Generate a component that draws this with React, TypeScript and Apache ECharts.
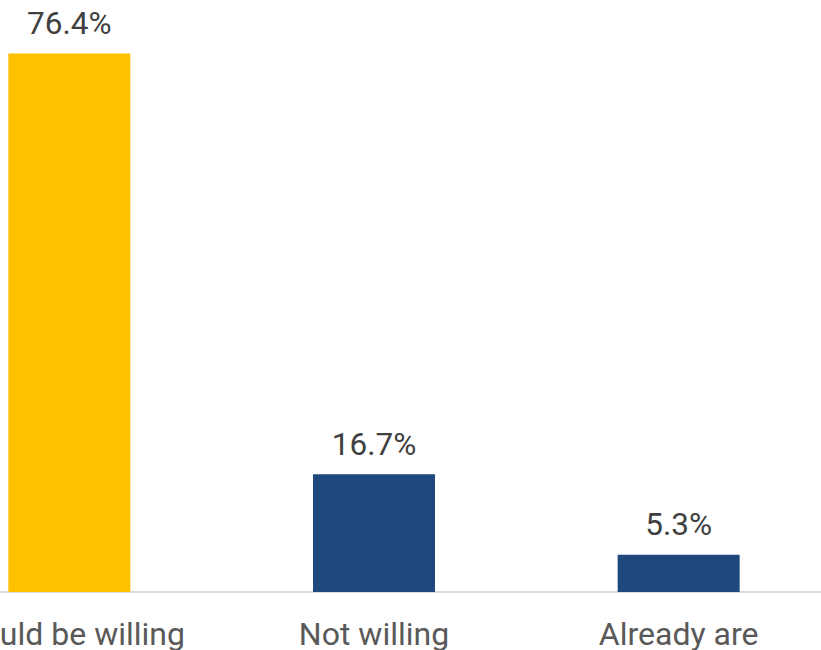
import React, { useEffect, useRef } from "react";
import * as echarts from "echarts";

const categories = ["Would be willing", "Not willing", "Already are"];
const values = [76.4, 16.7, 5.3];
const barColors = ["#FFC000", "#1F497D", "#1F497D"];

export default function App() {
  const ref = useRef<HTMLDivElement>(null);
  useEffect(() => {
    if (!ref.current) return;
    const chart = echarts.init(ref.current, undefined, { renderer: "svg" });
    chart.setOption({
      animation: false,
      grid: { left: 0, right: 0, top: 28, bottom: 57, containLabel: false },
      xAxis: {
        type: "category",
        data: categories,
        axisLine: { show: true, lineStyle: { color: "#D9D9D9", width: 2 } },
        axisTick: { show: false },
        axisLabel: {
          interval: 0,
          hideOverlap: false,
          margin: 26,
          color: "#595959",
          fontSize: 32,
          fontFamily: "Roboto",
        },
      },
      yAxis: {
        type: "value",
        min: 0,
        max: 80,
        show: false,
        splitLine: { show: false },
      },
      series: [
        {
          type: "bar",
          barWidth: 122,
          data: values.map((v, i) => ({ value: v, itemStyle: { color: barColors[i] } })),
          label: {
            show: true,
            position: "top",
            distance: 14,
            color: "#404040",
            fontSize: 31.5,
            fontFamily: "Roboto",
            formatter: (p: any) => p.value.toFixed(1) + "%",
          },
        },
      ],
    });
    return () => chart.dispose();
  }, []);
  return (
    <div style={{ position: "absolute", left: 0, top: 0, width: 821, height: 650, overflow: "hidden", background: "#fff" }}>
      <div ref={ref} style={{ position: "absolute", left: -83, top: 0, width: 914, height: 650 }} />
    </div>
  );
}
